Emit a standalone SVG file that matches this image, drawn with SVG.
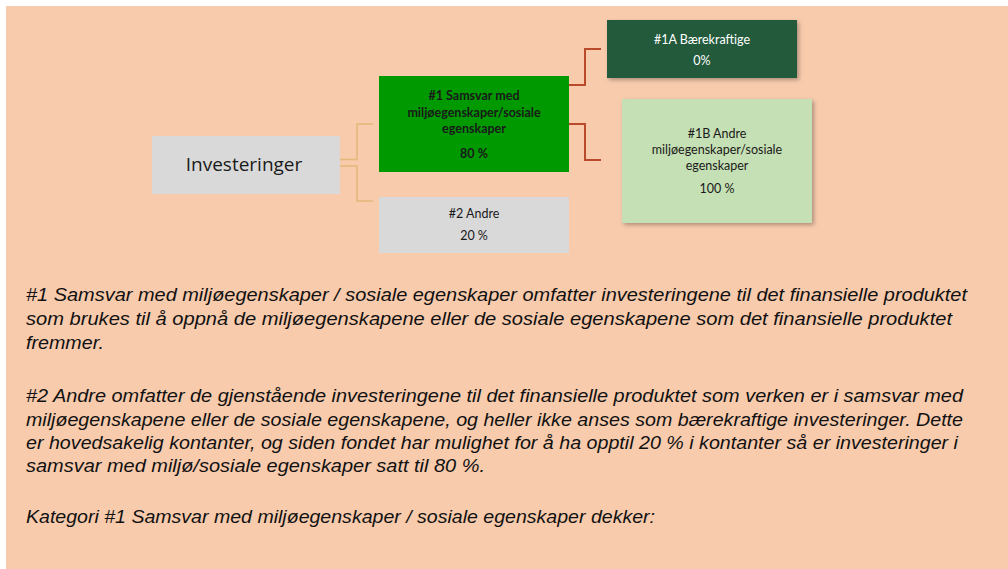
<svg xmlns="http://www.w3.org/2000/svg" width="1008" height="569" viewBox="0 0 1008 569">
<defs>
<filter id="sh" x="-10%" y="-10%" width="130%" height="130%">
<feDropShadow dx="2" dy="2" stdDeviation="2" flood-color="#000" flood-opacity="0.3"/>
</filter>
</defs>
<style>
.lbl{font-family:Lato,"Open Sans","Liberation Sans",sans-serif;font-size:12.5px;text-anchor:middle;fill:#1a1a1a}
.b{font-weight:bold}
.w{fill:#ffffff}
.para{font-family:"Liberation Sans",Arial,sans-serif;font-size:18.5px;font-style:italic;fill:#111}
.tan{fill:none;stroke:#E3B878;stroke-width:1.5}
.red{fill:none;stroke:#B94A2C;stroke-width:2}
</style>
<rect x="0" y="0" width="1008" height="569" fill="#ffffff"/>
<rect x="6" y="6" width="1002" height="563" fill="#F8CBAD"/>
<g id="connectors">
<path class="tan" d="M340,159.5 H357 V124 H373"/>
<path class="tan" d="M340,166 H357 V201 H373"/>
<path class="red" d="M569,85 H585 V49 H601"/>
<path class="red" d="M569,124 H585 V160 H601"/>
</g>
<g id="investeringer">
<rect x="152" y="136" width="188" height="58" fill="#D9D9D9"/>
<text class="lbl" x="244" y="171" style="font-family:'Open Sans',sans-serif;font-size:19px">Investeringer</text>
</g>
<g id="n1">
<rect x="379" y="76" width="190" height="96" fill="#009900"/>
<text class="lbl b" x="474" y="100">#1 Samsvar med</text>
<text class="lbl b" x="474" y="116.5">miljøegenskaper/sosiale</text>
<text class="lbl b" x="474" y="133">egenskaper</text>
<text class="lbl b" x="474" y="158">80 %</text>
</g>
<g id="n2">
<rect x="379" y="197" width="190" height="56" fill="#D9D9D9"/>
<text class="lbl" x="474" y="218">#2 Andre</text>
<text class="lbl" x="474" y="240">20 %</text>
</g>
<g id="n1a">
<rect x="607" y="20" width="190" height="58" fill="#215A3B" filter="url(#sh)"/>
<text class="lbl w" x="702" y="43.5">#1A Bærekraftige</text>
<text class="lbl w" x="702" y="65">0%</text>
</g>
<g id="n1b">
<rect x="622" y="99" width="190" height="124" fill="#C5E0B4" filter="url(#sh)"/>
<text class="lbl" x="717" y="138">#1B Andre</text>
<text class="lbl" x="717" y="154">miljøegenskaper/sosiale</text>
<text class="lbl" x="717" y="170">egenskaper</text>
<text class="lbl" x="717" y="193">100 %</text>
</g>
<g id="text">
<text class="para" x="26" y="301" textLength="941" lengthAdjust="spacingAndGlyphs">#1 Samsvar med miljøegenskaper / sosiale egenskaper omfatter investeringene til det finansielle produktet</text>
<text class="para" x="26" y="325" textLength="926" lengthAdjust="spacingAndGlyphs">som brukes til å oppnå de miljøegenskapene eller de sosiale egenskapene som det finansielle produktet</text>
<text class="para" x="26" y="348.5" textLength="78" lengthAdjust="spacingAndGlyphs">fremmer.</text>
<text class="para" x="26" y="402" textLength="937" lengthAdjust="spacingAndGlyphs">#2 Andre omfatter de gjenstående investeringene til det finansielle produktet som verken er i samsvar med</text>
<text class="para" x="26" y="425.5" textLength="937" lengthAdjust="spacingAndGlyphs">miljøegenskapene eller de sosiale egenskapene, og heller ikke anses som bærekraftige investeringer.  Dette</text>
<text class="para" x="26" y="448.5" textLength="932" lengthAdjust="spacingAndGlyphs">er hovedsakelig kontanter, og siden fondet har mulighet for å ha opptil 20 % i kontanter så er investeringer i</text>
<text class="para" x="26" y="472" textLength="459" lengthAdjust="spacingAndGlyphs">samsvar med miljø/sosiale egenskaper satt til 80 %.</text>
<text class="para" x="26" y="523" textLength="629" lengthAdjust="spacingAndGlyphs">Kategori #1 Samsvar med miljøegenskaper / sosiale egenskaper dekker:</text>
</g>
</svg>
